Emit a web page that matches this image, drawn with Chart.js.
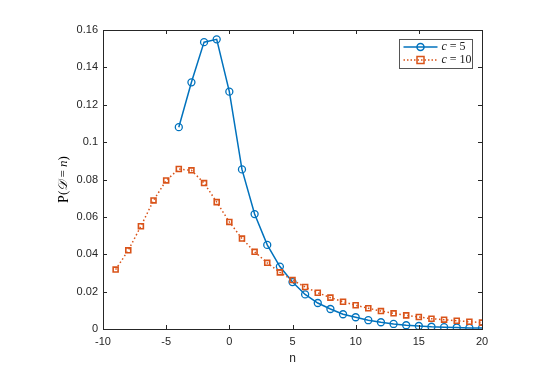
<!DOCTYPE html>
<html>
<head>
<meta charset="utf-8">
<script src="https://cdn.jsdelivr.net/npm/chart.js@4/dist/chart.umd.min.js"></script>
<style>
  html, body { margin: 0; padding: 0; background: #fff; }
  #wrap { width: 551px; height: 367px; }
</style>
</head>
<body>
<div id="wrap"><canvas id="myChart"></canvas></div>
<script>
// datos
const nC5 = [-4, -3, -2, -1, 0, 1, 2, 3, 4, 5, 6, 7, 8, 9, 10, 11, 12, 13, 14, 15, 16, 17, 18, 19, 20];
const pC5 = [0.108, 0.132, 0.1535, 0.155, 0.127, 0.0854, 0.0615, 0.045, 0.0334, 0.0251, 0.0185, 0.0139, 0.0107, 0.0079, 0.0063,
  0.0047, 0.0036, 0.0027, 0.002, 0.0016, 0.0012, 0.001, 0.0008, 0.0006, 0.0005];

const nC10 = [-9, -8, -7, -6, -5, -4, -3, -2, -1, 0, 1, 2, 3, 4, 5, 6, 7, 8, 9, 10, 11, 12, 13, 14, 15, 16, 17, 18, 19, 20];
const pC10 = [0.0318, 0.0421, 0.055, 0.0688, 0.0795, 0.0856, 0.0849, 0.0781, 0.0679, 0.0573, 0.0484, 0.0413, 0.0354, 0.0303,
  0.0262, 0.0225, 0.0194, 0.0168, 0.0146, 0.0127, 0.0111, 0.0096, 0.0084, 0.0073, 0.0064, 0.0055, 0.005, 0.0044, 0.0039, 0.0034];

const xTicks = [-10, -5, 0, 5, 10, 15, 20];
const yTicks = [0, 0.02, 0.04, 0.06, 0.08, 0.1, 0.12, 0.14, 0.16];

const azul = '#0072BD';
const naranja = '#D95319';
const ejeColor = '#262626';
const sansFont = "'Liberation Sans', Arial, Helvetica, sans-serif";
const serifFont = "'Liberation Serif', 'DejaVu Serif', 'Times New Roman', serif";

const toXY = (xs, ys) => xs.map((x, i) => ({ x: x, y: ys[i] }));

//Plugin caja estilo matlab con ticks hacia adentro
const boxPlugin = {
  id: 'boxPlugin',
  afterDraw(chart) {
    const { ctx, chartArea: a, scales } = chart;
    ctx.save();
    ctx.strokeStyle = ejeColor;
    ctx.lineWidth = 1;
    ctx.strokeRect(Math.round(a.left) + 0.5, Math.round(a.top) + 0.5, Math.round(a.right - a.left), Math.round(a.bottom - a.top));
    const len = 4;
    ctx.beginPath();
    xTicks.forEach(t => {
      const px = Math.round(scales.x.getPixelForValue(t)) + 0.5;
      ctx.moveTo(px, a.bottom); ctx.lineTo(px, a.bottom - len);
      ctx.moveTo(px, a.top); ctx.lineTo(px, a.top + len);
    });
    yTicks.forEach(t => {
      const py = Math.round(scales.y.getPixelForValue(t)) + 0.5;
      ctx.moveTo(a.left, py); ctx.lineTo(a.left + len, py);
      ctx.moveTo(a.right, py); ctx.lineTo(a.right - len, py);
    });
    ctx.stroke();

    // titulo eje y: P(D = n)
    const cx = 64, cy = (a.top + a.bottom) / 2;
    const parts = [
      { t: 'P', f: '14px ' + serifFont },
      { t: '(', f: '13px ' + serifFont },
      { t: '\u{1D49F}', f: 'italic 13px ' + serifFont },
      { t: ' = ', f: '13px ' + serifFont },
      { t: 'n', f: 'italic 13px ' + serifFont },
      { t: ')', f: '13px ' + serifFont }
    ];
    let total = 0;
    parts.forEach(p => { ctx.font = p.f; p.w = ctx.measureText(p.t).width; total += p.w; });
    ctx.translate(cx, cy);
    ctx.rotate(-Math.PI / 2);
    ctx.fillStyle = '#000';
    ctx.textBaseline = 'middle';
    let xx = -total / 2;
    parts.forEach(p => { ctx.font = p.f; ctx.fillText(p.t, xx, 0); xx += p.w; });
    ctx.restore();

    // titulo eje x
    ctx.save();
    ctx.font = '12px ' + sansFont;
    ctx.fillStyle = ejeColor;
    ctx.textAlign = 'center';
    ctx.textBaseline = 'middle';
    ctx.fillText('n', (a.left + a.right) / 2, 359);
    ctx.restore();

    // leyenda
    drawLegend(ctx);
  }
};

function drawLegend(ctx) {
  const bx = 399.5, by = 39.5, bw = 73, bh = 29;
  ctx.save();
  ctx.fillStyle = '#fff';
  ctx.fillRect(bx, by, bw, bh);
  ctx.strokeStyle = '#555';
  ctx.lineWidth = 1;
  ctx.strokeRect(bx, by, bw, bh);
  const rows = [
    { y: by + 7.5, col: azul, dash: [], mk: 'circle', lbl: '5' },
    { y: by + 20.5, col: naranja, dash: [1.5, 2], mk: 'rect', lbl: '10' }
  ];
  rows.forEach(r => {
    ctx.strokeStyle = r.col;
    ctx.lineWidth = 1.5;
    ctx.setLineDash(r.dash);
    ctx.beginPath();
    ctx.moveTo(bx + 4, r.y); ctx.lineTo(bx + 38, r.y);
    ctx.stroke();
    ctx.setLineDash([]);
    ctx.beginPath();
    if (r.mk === 'circle') ctx.arc(bx + 21, r.y, 3.5, 0, Math.PI * 2);
    else ctx.rect(bx + 17.5, r.y - 3.5, 7, 7);
    ctx.stroke();
    ctx.fillStyle = '#222';
    ctx.textBaseline = 'middle';
    ctx.font = 'italic 12px ' + serifFont;
    let tx = bx + 42;
    ctx.fillText('c', tx, r.y);
    tx += ctx.measureText('c').width;
    ctx.font = '12px ' + serifFont;
    ctx.fillText(' = ' + r.lbl, tx, r.y);
  });
  ctx.restore();
}

const ctx1 = document.getElementById('myChart');

new Chart(ctx1, {
  type: 'line',
  data: {
    datasets: [{
      label: 'c = 5',
      data: toXY(nC5, pC5),
      borderColor: azul,
      backgroundColor: 'transparent',
      borderWidth: 1.5,
      pointStyle: 'circle',
      pointRadius: 3.5,
      pointBorderWidth: 1.3,
      pointBorderColor: azul,
      pointBackgroundColor: 'transparent',
      tension: 0,
      order: 1
    }, {
      label: 'c = 10',
      data: toXY(nC10, pC10),
      borderColor: naranja,
      backgroundColor: 'transparent',
      borderWidth: 1.5,
      borderDash: [1.5, 2.5],
      pointStyle: 'rect',
      pointRadius: 3.5,
      pointBorderWidth: 1.6,
      pointBorderColor: naranja,
      pointBackgroundColor: 'transparent',
      tension: 0,
      order: 0
    }]
  },
  options: {
    responsive: true,
    maintainAspectRatio: false,
    animation: false,
    devicePixelRatio: 1,
    layout: { padding: { left: 0, right: 69, top: 30, bottom: 0 } },
    scales: {
      x: {
        type: 'linear',
        min: -10,
        max: 20,
        afterBuildTicks: (axis) => { axis.ticks = xTicks.map(v => ({ value: v })); },
        afterFit: (axis) => { axis.height = 38; },
        grid: { display: false, drawTicks: false },
        border: { display: false },
        ticks: {
          color: ejeColor,
          padding: 6,
          font: { family: sansFont, size: 11 },
          callback: (v) => String(v)
        }
      },
      y: {
        min: 0,
        max: 0.16,
        afterBuildTicks: (axis) => { axis.ticks = yTicks.map(v => ({ value: v })); },
        afterFit: (axis) => { axis.width = 103; },
        grid: { display: false, drawTicks: false },
        border: { display: false },
        ticks: {
          color: ejeColor,
          padding: 5,
          font: { family: sansFont, size: 11 },
          callback: (v) => String(Math.round(v * 100) / 100)
        }
      }
    },
    plugins: {
      legend: { display: false },
      tooltip: { enabled: false }
    }
  },
  plugins: [boxPlugin]
});
</script>
</body>
</html>
